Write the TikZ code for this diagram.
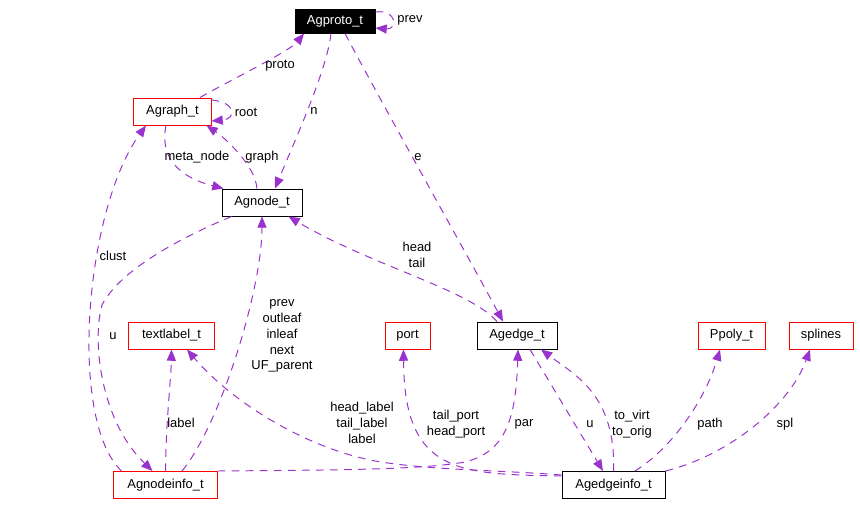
\documentclass[tikz,border=0pt]{standalone}
\usepackage{fontspec}
\setmainfont{Liberation Sans}
\usepackage{xcolor}
\usepackage{tikz}
\usetikzlibrary{arrows.meta, calc}
\definecolor{edgepurple}{RGB}{154, 50, 205}
\definecolor{boxred}{RGB}{255, 0, 0}

\begin{document}
\begin{tikzpicture}[
    x=0.025cm, y=-0.025cm,
    box/.style={rectangle, draw=black, fill=white, minimum height=0.675cm, line width=0.7pt,
                inner sep=0pt, text centered, font=\fontsize{9.2}{11.3}\selectfont},
    redbox/.style={box, draw=boxred},
    rootbox/.style={box, fill=black, text=white, minimum height=0.6cm},
    arr/.style={-{Triangle[length=8pt, width=6.5pt]}, dash pattern=on 5.5pt off 4.5pt,
                line width=0.7pt, color=edgepurple},
    lbl/.style={inner sep=0pt, align=center, font=\fontsize{9.2}{11.3}\selectfont}
]
\useasboundingbox (0,0) rectangle (860,506);

\node[rootbox, minimum width=2cm] (proto) at (335,21) {Agproto\_t};
\node[redbox, minimum width=1.925cm] (agraph) at (172.5,111.5) {Agraph\_t};
\node[box, minimum width=2cm] (agnode) at (262,202.5) {Agnode\_t};
\node[redbox, minimum width=2.125cm] (tlabel) at (171.5,335.5) {textlabel\_t};
\node[redbox, minimum width=1.125cm] (port) at (407.5,335.5) {port};
\node[box, minimum width=2cm] (agedge) at (517,335.5) {Agedge\_t};
\node[redbox, minimum width=1.675cm] (ppoly) at (731.5,335.5) {Ppoly\_t};
\node[redbox, minimum width=1.6cm] (splines) at (821,335.5) {splines};
\node[redbox, minimum width=2.575cm] (ninfo) at (165.5,485) {Agnodeinfo\_t};
\node[box, minimum width=2.575cm] (einfo) at (613.5,485) {Agedgeinfo\_t};

\draw[arr] ($(proto.east)+(0,-9)$) .. controls +(22,-3) and +(22,2) .. ($(proto.east)+(0,7)$);
\draw[arr] ($(agraph.north)+(27.5,0)$) .. controls (225,83) and (290,51) .. ($(proto.south)+(-31,0)$);
\draw[arr] ($(agraph.east)+(0,-11.5)$) .. controls +(25,2) and +(25,-2) .. ($(agraph.east)+(0,9.5)$);
\draw[arr] ($(proto.south)+(-4,0)$) .. controls (327,70) and (295,140) .. ($(agnode.north)+(13,0)$);
\draw[arr] ($(proto.south)+(10,0)$) .. controls (380,100) and (470,260) .. ($(agedge.north)+(-14,0)$);
\draw[arr] ($(agraph.south)+(-6.5,0)$) .. controls (158,165) and (190,180) .. ($(agnode.north west)+(2,0)$);
\draw[arr] ($(agnode.north)+(-5,0)$) .. controls (255,165) and (225,138) .. ($(agraph.south east)+(-5,0)$);
\draw[arr] ($(ninfo.north west)+(8,0)$) .. controls (68,420) and (85,210) .. ($(agraph.south)+(-26.5,0)$);
\draw[arr] ($(agnode.south west)+(10,0)$) .. controls (180,238) and (120,270) .. (102,305)
    .. controls (92,340) and (100,420) .. ($(ninfo.north)+(-13,0)$);
\draw[arr] ($(ninfo.north)+(16.5,0)$) .. controls (220,425) and (262,290) .. (agnode.south);
\draw[arr] (ninfo.north) .. controls (166,420) and (171,380) .. (tlabel.south);
\draw[arr] ($(einfo.west)+(0,-10)$) .. controls (500,470) and (420,470) .. (370,460)
    .. controls (300,445) and (230,400) .. ($(tlabel.south)+(15.5,0)$);
\draw[arr] ($(einfo.west)+(0,-9)$) .. controls (460,474) and (404,475) .. ($(port.south)+(-4,0)$);
\draw[arr] (ninfo.north east) .. controls (330,470) and (420,470) .. (465,462)
    .. controls (505,452) and (516,420) .. ($(agedge.south)+(1,0)$);
\draw[arr] ($(agedge.south)+(13,0)$) -- ($(einfo.north)+(-10.5,0)$);
\draw[arr] (einfo.north) .. controls (616,395) and (575,375) .. ($(agedge.south)+(24,0)$);
\draw[arr] ($(einfo.north)+(21.5,0)$) .. controls (672,448) and (705,400) .. ($(ppoly.south)+(-11.5,0)$);
\draw[arr] (einfo.north east) .. controls (730,455) and (790,405) .. ($(splines.south)+(-11,0)$);
\draw[arr] ($(agedge.north)+(-20,0)$) .. controls (470,290) and (370,265) .. ($(agnode.south east)+(-14,0)$);

\node[lbl] (l-prev) at (410,20) {prev};
\node[lbl] (l-proto) at (280,66) {proto};
\node[lbl] (l-root) at (246,112) {root};
\node[lbl] (l-n) at (314,111) {n};
\node[lbl] (l-e) at (418,157) {e};
\node[lbl] (l-meta) at (197,157) {meta\_node};
\node[lbl] (l-graph) at (262,157) {graph};
\node[lbl] (l-clust) at (113,256) {clust};
\node[lbl] (l-headtail) at (417,255) {head\\tail};
\node[lbl] (l-nu) at (113,336) {u};
\node[lbl] (l-leaf) at (282,336) {prev\\outleaf\\inleaf\\next\\UF\_parent};
\node[lbl] (l-label) at (181,423) {label};
\node[lbl] (l-labels) at (362,423) {head\_label\\tail\_label\\label};
\node[lbl] (l-ports) at (456,424) {tail\_port\\head\_port};
\node[lbl] (l-par) at (524,424) {par};
\node[lbl] (l-eu) at (590,424) {u};
\node[lbl] (l-virt) at (632,424) {to\_virt\\to\_orig};
\node[lbl] (l-path) at (710,424) {path};
\node[lbl] (l-spl) at (785,424) {spl};

\end{tikzpicture}
\end{document}
